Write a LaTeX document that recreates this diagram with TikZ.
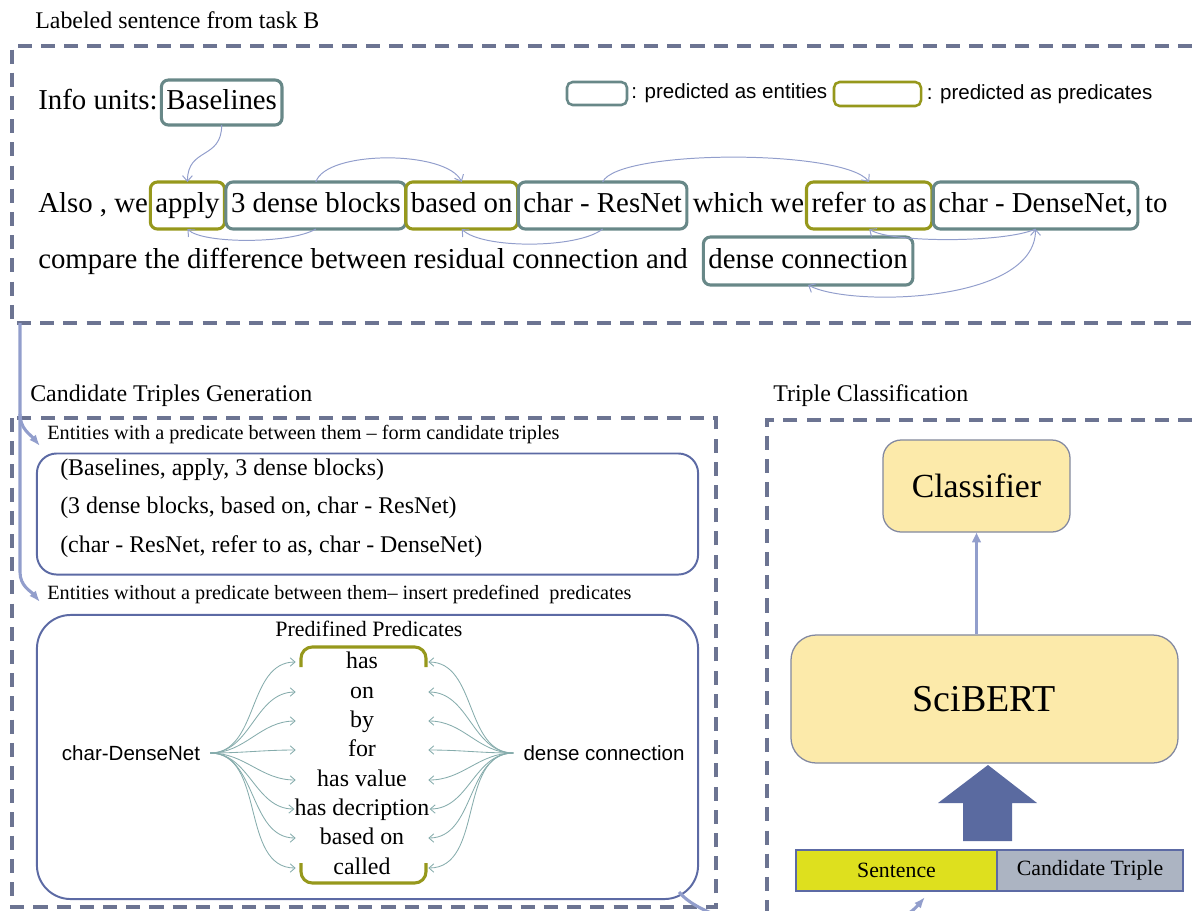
\documentclass[tikz,border=0pt]{standalone}
\usepackage{fontspec}
\setmainfont{Liberation Serif}
\setsansfont{Liberation Sans}
\usepackage{xcolor}
\usepackage{tikz}
\usetikzlibrary{arrows.meta, positioning, calc}

\definecolor{dashc}{RGB}{108,116,146}
\definecolor{entc}{RGB}{104,136,136}
\definecolor{predc}{RGB}{150,152,28}
\definecolor{linkc}{RGB}{146,158,204}
\definecolor{fanc}{RGB}{134,172,172}
\definecolor{grpc}{RGB}{92,106,164}
\definecolor{bertc}{RGB}{252,234,170}
\definecolor{bertd}{RGB}{130,136,160}
\definecolor{sentc}{RGB}{222,224,30}
\definecolor{candc}{RGB}{172,180,194}
\definecolor{blockc}{RGB}{90,106,160}

\newcommand{\sentsize}{\fontsize{20.5pt}{24pt}\selectfont}
\newcommand{\titlesize}{\fontsize{17pt}{20pt}\selectfont}
\newcommand{\notesize}{\fontsize{14.4pt}{17pt}\selectfont}
\newcommand{\keysize}{\fontsize{14.6pt}{18pt}\selectfont\sffamily}
\newcommand{\clssize}{\fontsize{24pt}{28pt}\selectfont}
\newcommand{\bertsize}{\fontsize{27pt}{32pt}\selectfont}
\newcommand{\segsize}{\fontsize{15.5pt}{18pt}\selectfont}

\tikzstyle{word} = [inner sep=0pt, text height=13pt, text depth=2.5pt, font=\sentsize]
\tikzstyle{ent} = [word, draw=entc, line width=2.2pt, outer sep=0pt, rounded corners=5pt, inner xsep=3.6pt, minimum height=1.175cm]
\tikzstyle{pred} = [ent, draw=predc]
\tikzstyle{link} = [draw=linkc, line width=0.7pt, ->, >={Straight Barb[length=4pt,width=7pt]}]
\tikzstyle{dashbox} = [draw=dashc, line width=2.5pt, dash pattern=on 10pt off 6.5pt]
\tikzstyle{title} = [inner sep=0pt, font=\titlesize, anchor=west]
\tikzstyle{note} = [inner sep=0pt, font=\notesize, anchor=west]
\tikzstyle{keytext} = [inner sep=0pt, font=\keysize]
\tikzstyle{grp} = [draw=grpc, line width=1.4pt, minimum width=16.525cm]
\tikzstyle{trip} = [inner sep=0pt, font=\titlesize, anchor=west]
\tikzstyle{plist} = [inner sep=0pt, minimum width=3.3cm, text height=12pt, text depth=3pt, font=\titlesize]
\tikzstyle{side} = [inner sep=0pt, inner xsep=7pt, font=\keysize]
\tikzstyle{fanl} = [draw=fanc, line width=0.6pt, ->, >={Straight Barb[length=3.5pt,width=6pt]}, out=0, in=180]
\tikzstyle{fanr} = [fanl, out=180, in=0]
\tikzstyle{bracket} = [draw=predc, line width=2.2pt, rounded corners=8pt]
\tikzstyle{flow} = [draw=linkc, line width=2.2pt, -{Latex[length=8pt,width=6pt]}]
\tikzstyle{yel} = [draw=bertd, line width=0.9pt, fill=bertc, rounded corners=13pt]
\tikzstyle{seg} = [draw=grpc, line width=1.2pt, font=\segsize, inner sep=0pt]

\begin{document}
\begin{tikzpicture}[x=0.025cm, y=-0.025cm]
\useasboundingbox (0,0) rectangle (1198,910);

% section frames
\draw [dashbox] (1215,46) -- (12,46) -- (12,323) -- (1215,323);
\draw [dashbox] (12,418) rectangle (716,907);
\draw [dashbox] (1215,420) -- (767,420) -- (767,925);

\node (ttop) [title] at (35,20) {Labeled sentence from task B};
\node (tcand) [title] at (30,396) {Candidate Triples Generation};
\node (tcls) [title] at (773,396) {Triple Classification};

% labeled sentence
\node (info) [word, anchor=west] at (38,102.5) {Info units:};
\node (baselines) [ent, right=2.5pt of info, minimum height=1.125cm] {Baselines};

\node (keyent) [draw=entc, line width=1.8pt, rounded corners=4pt, minimum width=1.5cm, minimum height=0.575cm] at (597,93.5) {};
\node (keyenttxt) [keytext, right=2pt of keyent] {: predicted as entities};
\node (keypred) [draw=predc, line width=1.8pt, rounded corners=4pt, minimum width=2.175cm, minimum height=0.6cm] at (877.5,94) {};
\node (keypredtxt) [keytext, right=3pt of keypred] {: predicted as predicates};

\node (also) [word, anchor=west] at (38,205.5) {Also , we};
\node (apply) [pred, right=1.5pt of also] {apply};
\node (blocks) [ent, right=1pt of apply] {3 dense blocks};
\node (basedon) [pred, right=0pt of blocks] {based on};
\node (resnet) [ent, right=0.5pt of basedon] {char - ResNet};
\node (which) [word, right=4pt of resnet] {which we};
\node (refer) [pred, right=1.5pt of which] {refer to as};
\node (densenet) [ent, right=1pt of refer] {char - DenseNet,};
\node (to) [word, right=5pt of densenet] {to};

\node (cmp) [word, anchor=west] at (38,261) {compare the difference between residual connection and};
\node (dense) [ent, right=11pt of cmp, minimum height=1.2cm] {dense connection};

\draw [link] (baselines.south) .. controls +(0,35) and +(0,-35) .. (apply.north);
\draw [link] (blocks.north) .. controls +(10,-32) and +(-15,-32) .. (basedon.north);
\draw [link] (blocks.south) .. controls +(-25,15) and +(15,15) .. (apply.south);
\draw [link] (resnet.south) .. controls +(-25,20) and +(20,20) .. (basedon.south);
\draw [link] (resnet.north) .. controls +(15,-33) and +(-25,-33) .. (refer.north);
\draw [link] (densenet.south) .. controls +(-30,14) and +(20,14) .. (refer.south);
\draw [link, <->] (dense.south) .. controls +(40,22) and +(0,75) .. (densenet.south);

% candidate triples
\node (withpred) [note] at (47,435) {Entities with a predicate between them -- form candidate triples};
\node (tribox) [grp, minimum height=3.025cm, rounded corners=14pt] at (367.5,514) {};
\node (t1) [trip] at (60,470) {(Baselines, apply, 3 dense blocks)};
\node (t2) [trip] at (60,508) {(3 dense blocks, based on, char - ResNet)};
\node (t3) [trip] at (60,547) {(char - ResNet, refer to as, char - DenseNet)};

\node (nopred) [note] at (47,595) {Entities without a predicate between them-- insert predefined~~predicates};
\node (predbox) [grp, minimum height=7.1cm, rounded corners=24pt] at (367.5,757) {};
\node (predtitle) [inner sep=0pt, font=\fontsize{15.6pt}{18pt}\selectfont] at (369,629) {Predifined Predicates};

\node (p1) [plist] at (362,662) {has};
\node (p2) [plist] at (362,692) {on};
\node (p3) [plist] at (362,721) {by};
\node (p4) [plist] at (362,750) {for};
\node (p5) [plist] at (362,780) {has value};
\node (p6) [plist] at (362,809) {has decription};
\node (p7) [plist] at (362,838) {based on};
\node (p8) [plist] at (362,868) {called};

\draw [bracket] (301,667) -- (301,647) -- (426,647) -- (426,667);
\draw [bracket] (301,863) -- (301,883) -- (426,883) -- (426,863);

\node (cdn) [side] at (131,753) {char-DenseNet};
\node (dc) [side] at (604,753) {dense connection};

\draw [fanl] (cdn.east) to (p1.west);
\draw [fanl] (cdn.east) to (p2.west);
\draw [fanl] (cdn.east) to (p3.west);
\draw [fanl] (cdn.east) to (p4.west);
\draw [fanl] (cdn.east) to (p5.west);
\draw [fanl] (cdn.east) to (p6.west);
\draw [fanl] (cdn.east) to (p7.west);
\draw [fanl] (cdn.east) to (p8.west);
\draw [fanr] (dc.west) to (p1.east);
\draw [fanr] (dc.west) to (p2.east);
\draw [fanr] (dc.west) to (p3.east);
\draw [fanr] (dc.west) to (p4.east);
\draw [fanr] (dc.west) to (p5.east);
\draw [fanr] (dc.west) to (p6.east);
\draw [fanr] (dc.west) to (p7.east);
\draw [fanr] (dc.west) to (p8.east);

% flow into the lower part
\coordinate (topout) at (20,323);
\coordinate (in1) at (40,446);
\coordinate (in2) at (40,602);
\draw [flow] (topout) -- (20,572) to[out=-90, in=130] (in2);
\draw [flow] (20,414) to[out=-90, in=130] (in1);

% triple classification
\node (cls) [yel, minimum width=4.675cm, minimum height=2.3cm, font=\clssize] at (976.5,486) {Classifier};
\node (bert) [yel, minimum width=9.675cm, minimum height=3.2cm, rounded corners=18pt, font=\bertsize] at (984.5,699) {SciBERT};
\node (sent) [seg, fill=sentc, minimum width=5.025cm, minimum height=1.025cm] at (896.5,870.5) {Sentence};
\node (cand) [seg, fill=candc, minimum width=4.65cm, minimum height=1.025cm] at (1090,870.5) {Candidate Triple};

\draw [draw=linkc, line width=2.2pt, -{Triangle[length=7pt,width=6pt]}] (cls.south |- bert.north) -- (cls.south);
\fill [blockc] (963,841) -- (963,803) -- (938,803) -- (988,765) -- (1037,803) -- (1012,803) -- (1012,841) -- cycle;

\coordinate (predout) at (679,892);
\coordinate (sentin) at (925,897);
\draw [flow] (predout) .. controls (715,935) and (880,950) .. (sentin);
\end{tikzpicture}
\end{document}
